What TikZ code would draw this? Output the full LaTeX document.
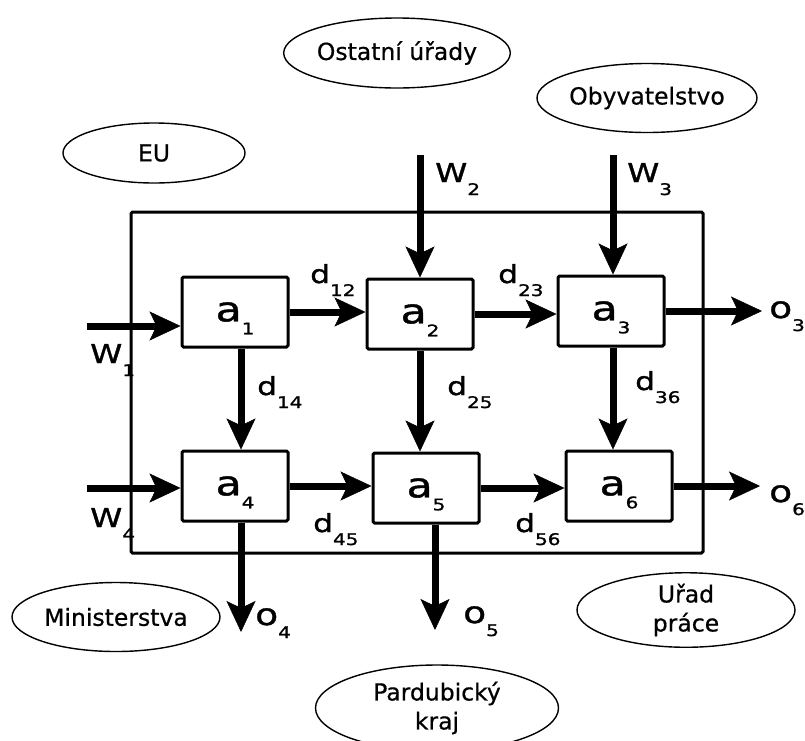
\documentclass[tikz,border=0pt]{standalone}
\usepackage{fontspec}
\setmainfont{DejaVu Sans}
\newfontfamily\lblfont[FakeStretch=1.25,FakeBold=1.2]{DejaVu Sans}
\newfontfamily\ellfont[FakeBold=0.6]{DejaVu Sans}
\usetikzlibrary{arrows.meta,shapes.geometric}
\newcommand\sbs[1]{\smash{\raisebox{-13pt}{\fontsize{16}{16}\lblfont #1}}}
\begin{document}
\begin{tikzpicture}[x=1pt,y=-1pt,
  blk/.style={draw,line width=3pt,rounded corners=1.5pt,minimum width=106pt,
    minimum height=70pt,inner sep=0pt,font=\lblfont\fontsize{34}{34}\selectfont},
  ell/.style={ellipse,draw,line width=1.4pt,inner sep=0pt,align=center,
    font=\ellfont\fontsize{23.5}{29}\selectfont},
  flow/.style={line width=7pt,-{Stealth[length=31pt,width=29pt,inset=7pt,line width=0.5pt]}},
  lbl/.style={anchor=base west,inner sep=0pt,font=\lblfont\fontsize{25}{25}\selectfont},
  wlbl/.style={lbl,font=\lblfont\fontsize{26}{26}\selectfont},
  olbl/.style={lbl,font=\lblfont\fontsize{30}{30}\selectfont}]
\useasboundingbox (0,0) rectangle (805,740);

% okoli
\node[ell,minimum width=182pt,minimum height=60pt] (eu) at (154,153) {EU};
\node[ell,minimum width=217pt,minimum height=70pt] (urady) at (397,53) {Ostatní úřady};
\node[ell,minimum width=210pt,minimum height=69pt] (obyv) at (647,98) {Obyvatelstvo};
\node[ell,minimum width=208pt,minimum height=69pt] (mini) at (116,617) {Ministerstva};
\node[ell,minimum width=243pt,minimum height=86pt] (kraj) at (437,708) {Pardubický\\kraj};
\node[ell,minimum width=218pt,minimum height=70pt] (uprace) at (686,610) {Uřad\\práce};

% system
\draw[line width=3pt,rounded corners=1.5pt] (131,212) rectangle (703,553);

\node[blk] (a1) at (235,312) {a\sbs{1}};
\node[blk] (a2) at (420,314) {a\sbs{2}};
\node[blk] (a3) at (611,311) {a\sbs{3}};
\node[blk] (a4) at (235,486) {a\sbs{4}};
\node[blk] (a5) at (426,488) {a\sbs{5}};
\node[blk] (a6) at (619,486) {a\sbs{6}};

\coordinate (w1) at (87,326);
\coordinate (w4) at (87,488);
\coordinate (w2) at (420,155);
\coordinate (w3) at (613,155);
\coordinate (o3) at (762,313);
\coordinate (o6) at (760,487);
\coordinate (o4) at (241,632);
\coordinate (o5) at (435,630);

\draw[flow] (w1) -- (w1 -| a1.west);
\draw[flow] (w4) -- (w4 -| a4.west);
\draw[flow] (w2) -- (w2 |- a2.north);
\draw[flow] (w3) -- (w3 |- a3.north);
\draw[flow] (a1.east) -- (a1.east -| a2.west);
\draw[flow] (a2.east) -- (a2.east -| a3.west);
\draw[flow] (a4.east) -- (a4.east -| a5.west);
\draw[flow] (a5.east) -- (a5.east -| a6.west);
\draw[flow] (a3.east) -- (a3.east -| o3);
\draw[flow] (a6.east) -- (a6.east -| o6);
\draw[flow] (o4 |- a1.south) -- (o4 |- a4.north);
\draw[flow] (a2.south) -- (a2.south |- a5.north);
\draw[flow] (w3 |- a3.south) -- (w3 |- a6.north);
\draw[flow] (o4 |- a4.south) -- (o4);
\draw[flow] (o5 |- a5.south) -- (o5);

\node[wlbl] (lw1) at (90,363) {W\sbs{1}};
\node[wlbl] (lw4) at (90,527) {W\sbs{4}};
\node[wlbl] (lw2) at (435,182) {W\sbs{2}};
\node[wlbl] (lw3) at (627,182) {W\sbs{3}};
\node[lbl] (ld12) at (310,283) {d\sbs{12}};
\node[lbl] (ld23) at (498,283) {d\sbs{23}};
\node[lbl] (ld14) at (257,395) {d\sbs{14}};
\node[lbl] (ld25) at (447,395) {d\sbs{25}};
\node[lbl] (ld36) at (635,390) {d\sbs{36}};
\node[lbl] (ld45) at (313,532) {d\sbs{45}};
\node[lbl] (ld56) at (515,532) {d\sbs{56}};
\node[olbl] (lo3) at (769,318) {o\sbs{3}};
\node[olbl] (lo6) at (769,502) {o\sbs{6}};
\node[olbl] (lo4) at (255,625) {o\sbs{4}};
\node[olbl] (lo5) at (463,623) {o\sbs{5}};
\end{tikzpicture}
\end{document}
